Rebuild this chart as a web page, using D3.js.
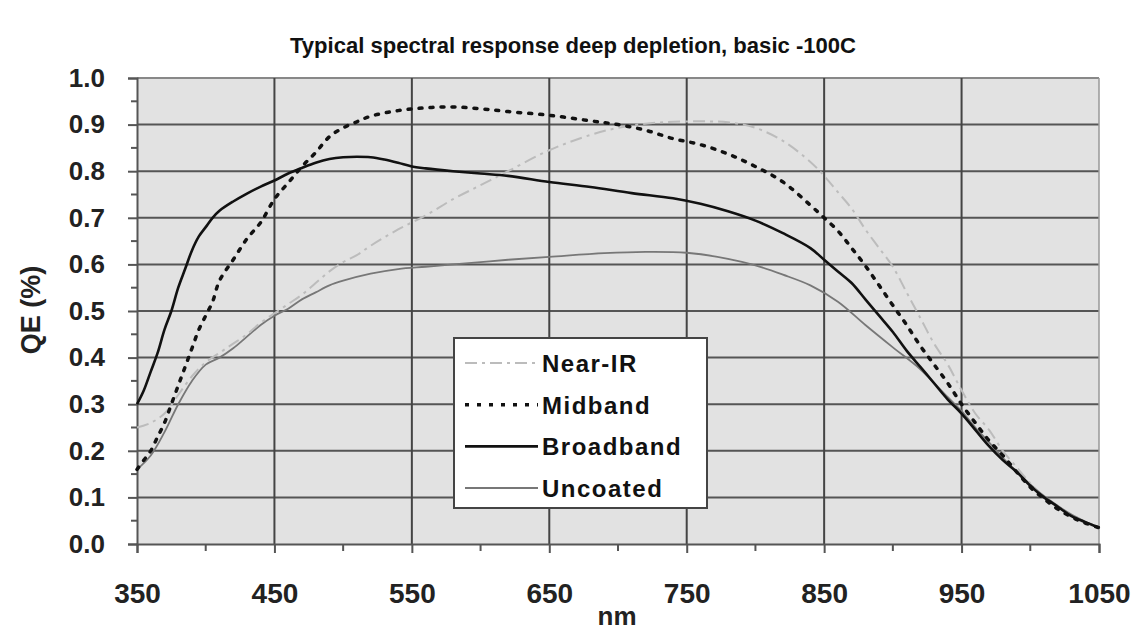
<!DOCTYPE html>
<html><head><meta charset="utf-8">
<script src="https://cdn.jsdelivr.net/npm/d3@7"></script>
<style>body{margin:0;background:#fff;}svg{display:block;font-family:"Liberation Sans",Arial,sans-serif;}</style>
</head><body>
<svg id="chart" width="1143" height="640"></svg>
<script>
const title = "Typical spectral response deep depletion, basic -100C";
const xTicks = [350,450,550,650,750,850,950,1050];
const yTicks = [0,0.1,0.2,0.3,0.4,0.5,0.6,0.7,0.8,0.9,1.0];
const seriesNames = ["Near-IR","Midband","Broadband","Uncoated"];

const nearIR = [[350,0.25],[360,0.26],[370,0.28],[380,0.32],[390,0.36],[400,0.39],[410,0.41],[420,0.43],[430,0.45],[440,0.475],[450,0.495],[460,0.515],[470,0.535],[480,0.56],[490,0.585],[500,0.605],[510,0.62],[520,0.64],[540,0.675],[560,0.705],[580,0.74],[600,0.77],[620,0.80],[650,0.845],[680,0.878],[700,0.893],[720,0.902],[740,0.906],[760,0.907],[780,0.905],[800,0.893],[820,0.865],[840,0.82],[850,0.79],[860,0.755],[870,0.72],[880,0.675],[890,0.635],[900,0.595],[910,0.54],[920,0.485],[930,0.43],[940,0.385],[950,0.33],[960,0.28],[970,0.245],[980,0.2],[990,0.165],[1000,0.13],[1010,0.1],[1020,0.08],[1030,0.06],[1040,0.045],[1050,0.035]];
const midband = [[350,0.16],[355,0.18],[360,0.2],[365,0.23],[370,0.26],[375,0.3],[380,0.34],[385,0.38],[390,0.42],[395,0.46],[400,0.49],[405,0.52],[410,0.565],[420,0.61],[430,0.655],[440,0.69],[450,0.74],[460,0.775],[470,0.81],[480,0.84],[490,0.874],[500,0.893],[510,0.906],[520,0.918],[540,0.93],[560,0.936],[580,0.938],[600,0.934],[620,0.928],[650,0.92],[680,0.908],[700,0.9],[720,0.888],[740,0.87],[760,0.857],[780,0.837],[800,0.81],[820,0.777],[840,0.727],[850,0.70],[860,0.672],[870,0.635],[880,0.597],[890,0.555],[900,0.512],[910,0.47],[920,0.425],[930,0.385],[940,0.345],[950,0.30],[960,0.26],[970,0.222],[980,0.19],[990,0.155],[1000,0.122],[1010,0.097],[1020,0.075],[1030,0.058],[1040,0.045],[1050,0.035]];
const broadband = [[350,0.30],[355,0.33],[360,0.37],[365,0.41],[370,0.46],[375,0.50],[380,0.55],[385,0.59],[390,0.63],[395,0.66],[400,0.68],[405,0.70],[410,0.715],[420,0.735],[430,0.752],[440,0.767],[450,0.78],[460,0.795],[470,0.807],[480,0.818],[490,0.826],[500,0.83],[510,0.831],[520,0.83],[530,0.825],[540,0.818],[550,0.81],[560,0.806],[580,0.80],[600,0.795],[620,0.79],[650,0.777],[680,0.766],[710,0.753],[740,0.742],[760,0.73],[780,0.714],[800,0.694],[820,0.667],[840,0.635],[850,0.61],[860,0.585],[870,0.56],[880,0.525],[890,0.49],[900,0.455],[910,0.415],[920,0.38],[930,0.345],[940,0.31],[950,0.28],[960,0.245],[970,0.21],[980,0.18],[990,0.155],[1000,0.125],[1010,0.1],[1020,0.08],[1030,0.06],[1040,0.047],[1050,0.035]];
const uncoated = [[350,0.16],[360,0.19],[370,0.24],[380,0.30],[390,0.35],[400,0.385],[410,0.40],[420,0.42],[430,0.445],[440,0.47],[450,0.49],[460,0.505],[470,0.525],[480,0.54],[490,0.555],[500,0.565],[520,0.58],[540,0.59],[560,0.595],[580,0.60],[600,0.605],[620,0.61],[650,0.616],[690,0.624],[720,0.627],[750,0.625],[780,0.612],[800,0.598],[820,0.578],[840,0.555],[860,0.52],[880,0.47],[900,0.422],[920,0.375],[940,0.315],[950,0.285],[960,0.25],[970,0.218],[980,0.185],[990,0.155],[1000,0.128],[1010,0.103],[1020,0.082],[1030,0.063],[1040,0.048],[1050,0.035]];

const svg = d3.select("#chart");
const L=137, R=1099, T=78, B=544;
const x = d3.scaleLinear().domain([350,1050]).range([L,R]);
const y = d3.scaleLinear().domain([0,1]).range([B,T]);
const FONT = "Liberation Sans, Arial, sans-serif";

svg.append("text").attr("x",573).attr("y",53).attr("text-anchor","middle")
  .attr("font-size",22).attr("font-weight","bold").attr("fill","#111")
  .attr("textLength",566).attr("lengthAdjust","spacingAndGlyphs").text(title);

svg.append("rect").attr("x",L).attr("y",T).attr("width",R-L).attr("height",B-T).attr("fill","#e2e2e2");

// grid
svg.append("g").selectAll("line").data(yTicks.filter(d=>d>0)).join("line")
  .attr("x1",L).attr("x2",R).attr("y1",d=>y(d)).attr("y2",d=>y(d))
  .attr("stroke",d=>d===1?"#888":"#555").attr("stroke-width",2);
svg.append("g").selectAll("line").data(xTicks.filter(d=>d>350)).join("line")
  .attr("x1",d=>x(d)).attr("x2",d=>x(d)).attr("y1",T).attr("y2",B)
  .attr("stroke",d=>d===1050?"#999":"#444").attr("stroke-width",d=>d===1050?1.5:2);

// axes
const yAxis = d3.axisLeft(y).tickValues(yTicks).tickFormat(d3.format(".1f")).tickSize(9).tickPadding(23);
const gy = svg.append("g").attr("transform",`translate(${L},0)`).call(yAxis);
gy.select(".domain").attr("stroke","#555").attr("stroke-width",2);
gy.selectAll(".tick line").attr("stroke","#555").attr("stroke-width",2);
gy.selectAll("text").attr("font-size",26).attr("font-weight","bold").attr("fill","#222").attr("font-family",FONT);
const yMinor = d3.range(0.05,1,0.1);
svg.append("g").selectAll("line").data(yMinor).join("line")
  .attr("x1",L-6).attr("x2",L).attr("y1",d=>y(d)).attr("y2",d=>y(d)).attr("stroke","#555").attr("stroke-width",2);

const xAxis = d3.axisBottom(x).tickValues(xTicks).tickFormat(d3.format("d")).tickSize(9);
const gx = svg.append("g").attr("transform",`translate(0,${B})`).call(xAxis);
gx.select(".domain").attr("stroke","#555").attr("stroke-width",2);
gx.selectAll(".tick line").attr("stroke","#555").attr("stroke-width",2);
gx.selectAll("text").attr("y",59).attr("dy",null).attr("font-size",28).attr("font-weight","bold").attr("fill","#222").attr("font-family",FONT);
const xMinor = d3.range(400,1050,100);
svg.append("g").selectAll("line").data(xMinor).join("line")
  .attr("x1",d=>x(d)).attr("x2",d=>x(d)).attr("y1",B).attr("y2",B+7).attr("stroke","#555").attr("stroke-width",2);

svg.append("text").attr("x",617).attr("y",625).attr("text-anchor","middle").attr("font-size",26).attr("font-weight","bold").attr("fill","#222").text("nm");
svg.append("text").attr("transform","translate(40,310) rotate(-90)").attr("text-anchor","middle").attr("font-size",27).attr("font-weight","bold").attr("fill","#222")
  .text("QE (%)");

const styles = {
  "Near-IR":{color:"#bcbcbc",width:2,dash:"12,5,3,5"},
  "Midband":{color:"#111",width:3.5,dash:"3,8",cap:"round"},
  "Broadband":{color:"#111",width:2.6,dash:null},
  "Uncoated":{color:"#777",width:1.8,dash:null}
};
const dataMap = {"Near-IR":nearIR,"Midband":midband,"Broadband":broadband,"Uncoated":uncoated};
const line = d3.line().x(d=>x(d[0])).y(d=>y(d[1])).curve(d3.curveCatmullRom);
["Uncoated","Near-IR","Broadband","Midband"].forEach(n=>{
  const s=styles[n];
  svg.append("path").datum(dataMap[n]).attr("d",line).attr("fill","none")
    .attr("stroke",s.color).attr("stroke-width",s.width)
    .attr("stroke-dasharray",s.dash).attr("stroke-linecap",s.cap||"butt");
});

// legend
const lg = svg.append("g");
lg.append("rect").attr("x",454).attr("y",338).attr("width",253).attr("height",170).attr("fill","#fff").attr("stroke","#444").attr("stroke-width",2);
const ly = d3.scalePoint().domain(seriesNames).range([363,488]);
seriesNames.forEach(n=>{
  const s=styles[n];
  lg.append("line").attr("x1",465).attr("x2",538).attr("y1",ly(n)).attr("y2",ly(n))
    .attr("stroke",s.color).attr("stroke-width",n==="Midband"?3.5:s.width)
    .attr("stroke-dasharray",n==="Midband"?"4,8":s.dash);
  lg.append("text").attr("x",542).attr("y",ly(n)+9).attr("font-size",24).attr("font-weight","bold").attr("fill","#111").attr("letter-spacing",1.5).text(n);
});
</script>
</body></html>
